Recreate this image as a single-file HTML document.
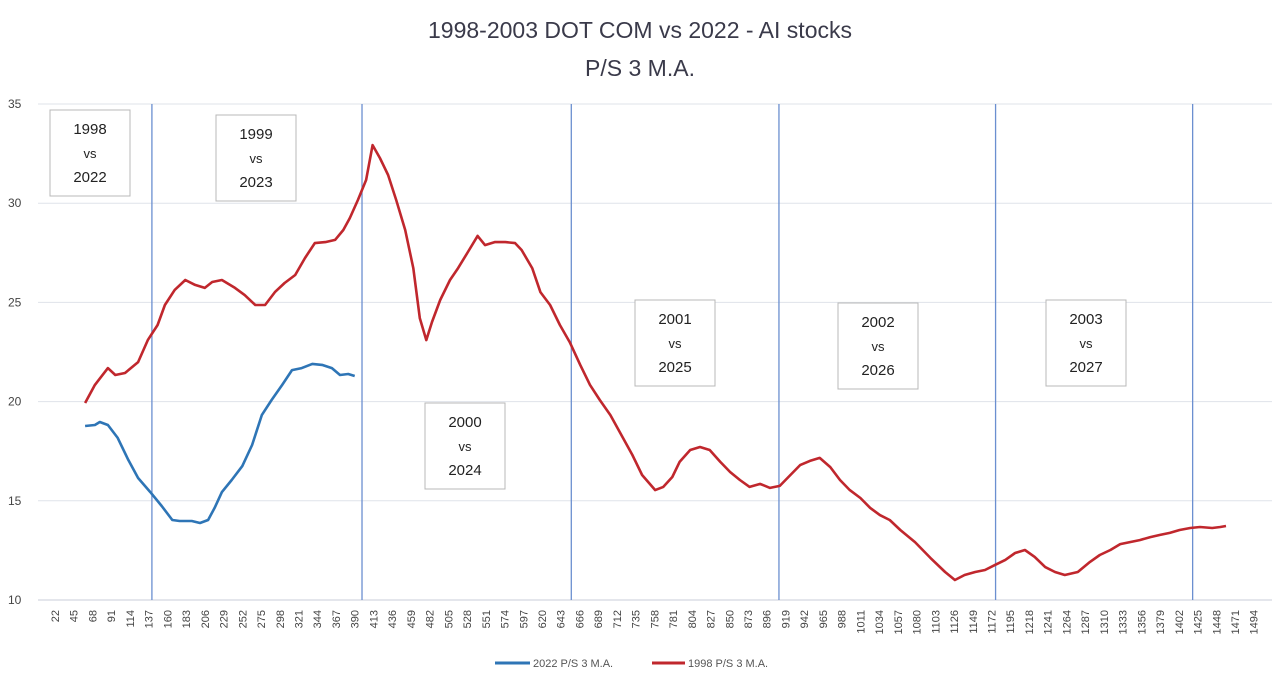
<!DOCTYPE html>
<html><head><meta charset="utf-8"><style>
body{margin:0;background:#fff;font-family:"Liberation Sans",sans-serif;}
svg{display:block}
</style></head><body>
<svg id="chart" width="1280" height="688" viewBox="0 0 1280 688">
<rect x="0" y="0" width="1280" height="688" fill="#fff"/>
<text x="640" y="38" text-anchor="middle" font-size="23" fill="#3a3a4a">1998-2003 DOT COM vs 2022 - AI stocks</text>
<text x="640" y="76" text-anchor="middle" font-size="23" fill="#3a3a4a">P/S 3 M.A.</text>
<g id="grid"></g><g id="vlines"></g><g id="xticks"></g><g id="series"></g><g id="boxes"></g>
<g>
<line x1="495" y1="663" x2="530" y2="663" stroke="#2e75b6" stroke-width="3"/>
<text x="533" y="667" font-size="11" fill="#555">2022 P/S 3 M.A.</text>
<line x1="652" y1="663" x2="685" y2="663" stroke="#c0272d" stroke-width="3"/>
<text x="688" y="667" font-size="11" fill="#555">1998 P/S 3 M.A.</text>
</g>
</svg>
<script>
const yTicks=[10,15,20,25,30,35];
const xFirst=22, xStep=23, xCount=65;
const yearLines=[141,399,656,911,1177,1419];
const blueX=[59,71,77,87,99,112,124,139,153,166,175,190,200,210,218,227,239,252,264,276,288,301,313,325,338,350,362,372,382,390];
const blueY=[18.77,18.82,18.97,18.82,18.17,17.06,16.15,15.44,14.74,14.03,13.98,13.98,13.88,14.03,14.64,15.44,16.05,16.75,17.81,19.32,20.08,20.84,21.59,21.69,21.9,21.85,21.69,21.34,21.39,21.29];
const redX=[59,71,87,96,108,124,136,148,157,169,182,194,206,215,227,243,255,268,280,292,304,317,329,341,354,366,376,384,394,404,412,421,431,441,452,462,470,478,485,495,507,517,529,541,550,562,575,587,595,608,618,630,642,654,667,679,691,704,716,731,743,759,769,780,789,802,814,826,839,851,863,875,888,900,912,925,937,949,961,974,986,998,1011,1023,1035,1047,1060,1078,1097,1115,1127,1139,1152,1164,1176,1189,1201,1213,1225,1238,1250,1262,1278,1293,1305,1318,1330,1342,1354,1367,1379,1391,1403,1416,1428,1443,1453,1460];
const redY=[19.93,20.84,21.69,21.34,21.44,21.99,23.1,23.86,24.87,25.63,26.13,25.88,25.73,26.03,26.13,25.73,25.37,24.87,24.87,25.52,25.98,26.38,27.24,27.99,28.04,28.15,28.65,29.25,30.16,31.17,32.93,32.28,31.42,30.16,28.65,26.73,24.21,23.1,24.01,25.12,26.13,26.73,27.54,28.35,27.89,28.04,28.04,27.99,27.64,26.73,25.52,24.87,23.86,23.0,21.84,20.84,20.08,19.32,18.42,17.31,16.3,15.54,15.7,16.2,16.96,17.56,17.71,17.56,16.96,16.45,16.05,15.7,15.85,15.65,15.75,16.3,16.8,17.01,17.16,16.7,16.05,15.54,15.14,14.64,14.28,14.03,13.53,12.92,12.12,11.41,11.01,11.26,11.41,11.51,11.76,12.02,12.37,12.52,12.17,11.66,11.41,11.26,11.41,11.92,12.27,12.52,12.82,12.92,13.02,13.17,13.28,13.38,13.53,13.63,13.68,13.63,13.68,13.73];
const boxLabels=[["1998","2022"],["1999","2023"],["2000","2024"],["2001","2025"],["2002","2026"],["2003","2027"]];
const boxPos=[[50,110],[216,115],[425,403],[635,300],[838,303],[1046,300]];
const NS="http://www.w3.org/2000/svg";
const px0=55, pxStep=18.73;
function xs(v){return px0+(v-xFirst)/xStep*pxStep;}
function ys(v){return 600-(v-10)*(496/25);}
function mk(t,a,p){const e=document.createElementNS(NS,t);for(const k in a)e.setAttribute(k,a[k]);p.appendChild(e);return e;}
const grid=document.getElementById('grid');
yTicks.forEach(t=>{
  const l=mk('line',{x1:38,x2:1272,y1:ys(t),y2:ys(t),stroke:t===10?'#c8cdd8':'#dfe3ea','stroke-width':1},grid);
  
  
  const tx=mk('text',{x:8,y:ys(t)+4,'font-size':12,fill:'#444'},grid);
  tx.textContent=t;
  
  
});
const vl=document.getElementById('vlines');
yearLines.forEach(v=>{
  const l=mk('line',{x1:xs(v),x2:xs(v),y1:ys(35),y2:ys(10),stroke:'#6b8fd0','stroke-width':1.3},vl);
  
  
});
const xt=document.getElementById('xticks');
for(let i=0;i<xCount;i++){
  const v=xFirst+i*xStep, x=xs(v);
  const tx=mk('text',{x:0,y:0,'font-size':11,fill:'#444','text-anchor':'end',transform:`translate(${x+4},${610}) rotate(-90)`},xt);
  tx.textContent=v;
  
  
}
const sg=document.getElementById('series');
function path(X,Y){return X.map((v,i)=>(i?'L':'M')+xs(v).toFixed(1)+','+ys(Y[i]).toFixed(1)).join('');}
const b=mk('path',{d:path(blueX,blueY),fill:'none',stroke:'#2e75b6','stroke-width':2.6,'stroke-linejoin':'round'},sg);


const r=mk('path',{d:path(redX,redY),fill:'none',stroke:'#c0272d','stroke-width':2.6,'stroke-linejoin':'round'},sg);


const bx=document.getElementById('boxes');
boxLabels.forEach((lab,i)=>{
  const [x,y]=boxPos[i];
  const g=mk('g',{},bx);
  
  
  mk('rect',{x:x,y:y,width:80,height:86,fill:'#fff',stroke:'#b8b8b8','stroke-width':1},g);
  [lab[0],'vs',lab[1]].forEach((s,j)=>{
    const t=mk('text',{x:x+40,y:y+24+j*24,'text-anchor':'middle','font-size':j===1?13:15,fill:'#222'},g);
    t.textContent=s;
  });
});
</script>
</body></html>
